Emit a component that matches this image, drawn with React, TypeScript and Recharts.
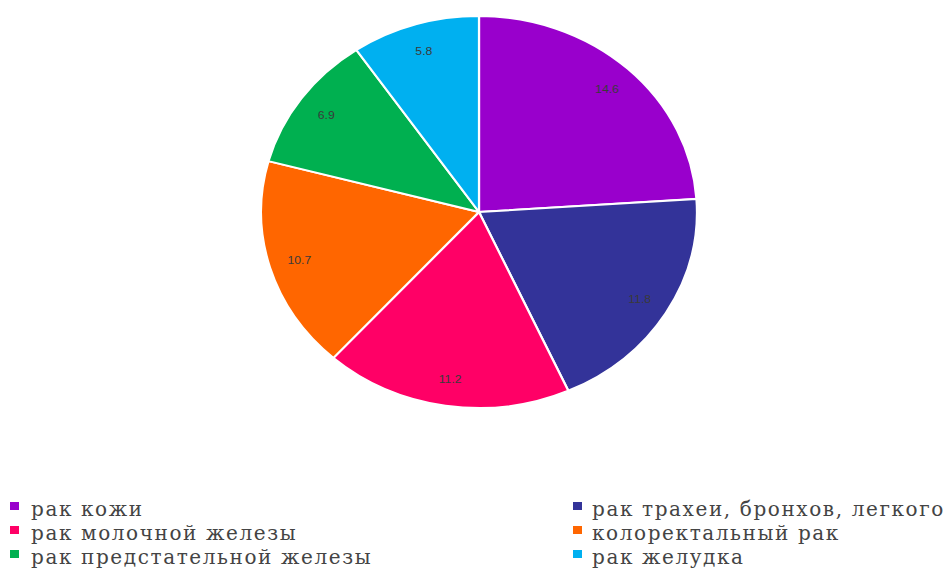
import { PieChart, Pie, Cell } from "recharts";

const categories = [
  "рак кожи",
  "рак трахеи, бронхов, легкого",
  "рак молочной железы",
  "колоректальный рак",
  "рак предстательной железы",
  "рак желудка",
];
const values = [14.6, 11.8, 11.2, 10.7, 6.9, 5.8];
const colors = ["#9900cc", "#333399", "#ff0066", "#ff6600", "#00b050", "#00b0f0"];

const data = categories.map((name, i) => ({ name, value: values[i] }));

const RAD = Math.PI / 180;

function SliceLabel(props: any) {
  const { cx, cy, midAngle, outerRadius, value } = props;
  const r = outerRadius * 0.86;
  const x = cx + r * Math.cos(-midAngle * RAD);
  const y = cy + r * Math.sin(-midAngle * RAD);
  return (
    <text
      x={x}
      y={y}
      fill="#3a3a3a"
      fontSize={11}
      fontFamily="'Liberation Sans', Arial, sans-serif"
      textAnchor="middle"
      dominantBaseline="central"
    >
      {String(value)}
    </text>
  );
}

export default function App() {
  return (
    <div
      style={{
        position: "absolute",
        left: 0,
        top: 0,
        width: 949,
        height: 570,
        background: "#fff",
        overflow: "hidden",
      }}
    >
      {/* the source pie is slightly wider than tall */}
      <div style={{ width: 949, height: 440, transform: "scaleX(1.112)", transformOrigin: "479px 0px" }}>
        <PieChart width={949} height={440} margin={{ top: 0, right: 0, bottom: 0, left: 0 }}>
          <Pie
            data={data}
            dataKey="value"
            nameKey="name"
            cx={479}
            cy={212}
            outerRadius={196}
            startAngle={90}
            endAngle={-270}
            stroke="#ffffff"
            strokeWidth={2}
            label={SliceLabel}
            labelLine={false}
            isAnimationActive={false}
          >
            {data.map((d, i) => (
              <Cell key={d.name} fill={colors[i]} />
            ))}
          </Pie>
        </PieChart>
      </div>
      <div
        style={{
          position: "absolute",
          left: 10,
          top: 497,
          width: 939,
          display: "grid",
          gridTemplateColumns: "563px 376px",
          gridAutoRows: "24px",
          fontFamily: "'DejaVu Serif', serif",
          fontSize: 20,
          lineHeight: "22px",
          letterSpacing: 1.6,
          color: "#444444",
          whiteSpace: "nowrap",
        }}
      >
        {data.map((d, i) => (
          <div key={d.name} style={{ display: "flex", alignItems: "center" }}>
            <span
              style={{
                display: "inline-block",
                width: 9,
                height: 8,
                background: colors[i],
                marginRight: i % 2 === 0 ? 12 : 10,
                marginTop: -6,
                flex: "none",
              }}
            />
            <span>{d.name}</span>
          </div>
        ))}
      </div>
    </div>
  );
}
